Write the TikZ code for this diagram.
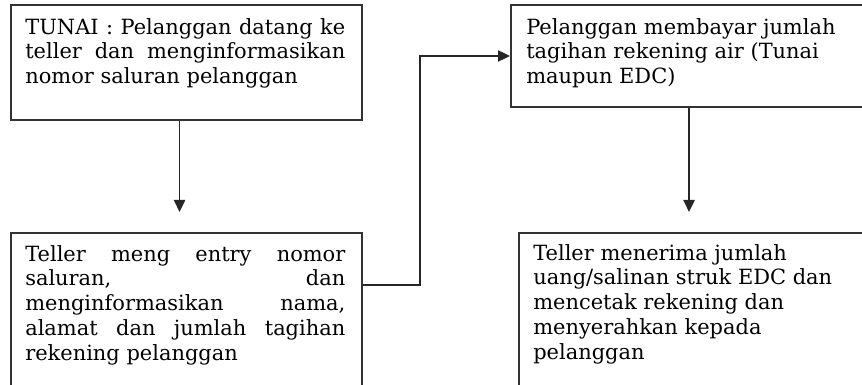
\documentclass[tikz,border=0pt]{standalone}
\usepackage{fontspec}
\setmainfont{DejaVu Serif}
\usetikzlibrary{calc}
\usetikzlibrary{arrows.meta}
\newcommand{\flwtxtw}{8cm}
\newcommand{\flwfont}{\fontsize{14.9pt}{17.6pt}\selectfont}
\newcommand{\jline}[1]{\makebox[\flwtxtw][s]{#1}}
\begin{document}
\begin{tikzpicture}[x=0.025cm,y=-0.025cm,
    flwbox/.style={draw=black!80,line width=1.4pt,anchor=north west,inner sep=0pt},
    flwtxt/.style={anchor=north west,inner sep=0pt,align=left,font=\flwfont},
    flwarr/.style={draw=black!85,line width=1.2pt,-{Triangle[length=0.3cm,width=0.28cm]}}]
  \useasboundingbox (0,0) rectangle (862,385);
  \clip (0,0) rectangle (862,385);

  \node[flwbox,minimum width=8.775cm,minimum height=2.875cm] (tunai) at (10,4) {};
  \node[flwbox,minimum width=8.775cm,minimum height=4.2cm] (entry) at (10,232) {};
  \node[flwbox,minimum width=8.9cm,minimum height=2.55cm] (pay) at (510,4) {};
  \node[flwbox,minimum width=8.9cm,minimum height=4.2cm] (terima) at (518,232) {};

  \node[flwtxt] (tunaitxt) at ($(tunai.north west)+(15,14)$)
    {\jline{TUNAI : Pelanggan datang ke}\\
     \jline{teller dan menginformasikan}\\
     nomor saluran pelanggan};
  \node[flwtxt] (entrytxt) at ($(entry.north west)+(15,13)$)
    {\jline{Teller meng entry nomor}\\
     \jline{saluran, dan}\\
     \jline{menginformasikan nama,}\\
     \jline{alamat dan jumlah tagihan}\\
     rekening pelanggan};
  \node[flwtxt] (paytxt) at ($(pay.north west)+(16,14)$)
    {Pelanggan membayar jumlah\\
     tagihan rekening air (Tunai\\
     maupun EDC)};
  \node[flwtxt] (terimatxt) at ($(terima.north west)+(15,12)$)
    {Teller menerima jumlah\\
     uang/salinan struk EDC dan\\
     mencetak rekening dan\\
     menyerahkan kepada\\
     pelanggan};

  \draw[flwarr] ($(tunai.south)+(-7,0)$) coordinate (a1)
    -- ($(a1 |- entry.north)+(0,-20)$);
  \draw[flwarr] (pay.south) -- ($(pay.south |- terima.north)+(0,-20)$);
  \draw[flwarr] ($(entry.north east)+(0,53)$) -- ++(57,0) |- (pay.west);
\end{tikzpicture}
\end{document}
